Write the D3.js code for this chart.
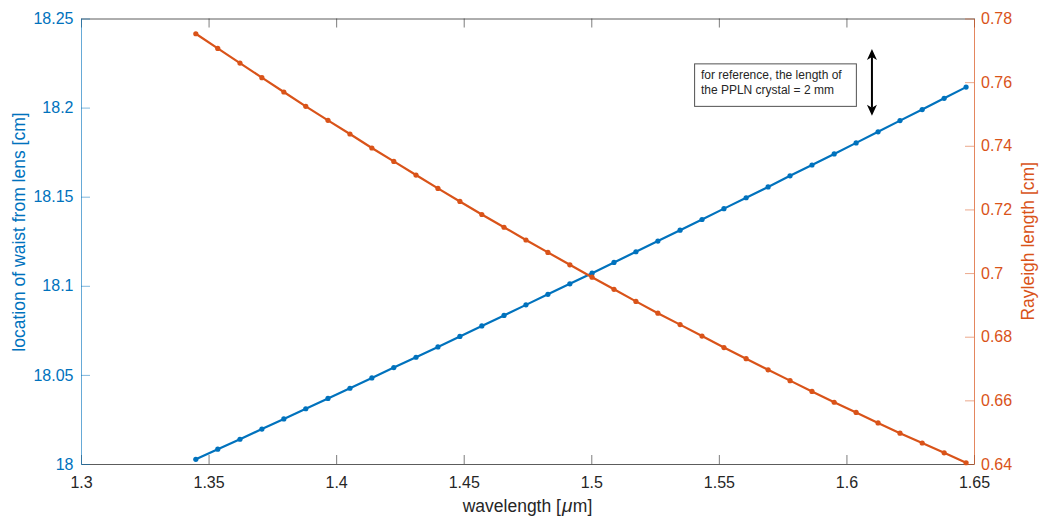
<!DOCTYPE html>
<html>
<head>
<meta charset="utf-8">
<script src="https://cdn.jsdelivr.net/npm/d3@7"></script>
<style>
  html, body { margin: 0; padding: 0; background: #ffffff; }
  svg { display: block; font-family: "Liberation Sans", Arial, Helvetica, sans-serif; }
</style>
</head>
<body>
<svg id="chart" width="1042" height="517"></svg>
<script>
// Wavelength samples [µm]
const wavelength = [
  1.3450, 1.3536, 1.3623, 1.3709, 1.3795, 1.3881, 1.3968, 1.4054, 1.4140, 1.4226,
  1.4313, 1.4399, 1.4485, 1.4571, 1.4658, 1.4744, 1.4830, 1.4916, 1.5003, 1.5089,
  1.5175, 1.5261, 1.5348, 1.5434, 1.5520, 1.5607, 1.5693, 1.5779, 1.5865, 1.5952,
  1.6038, 1.6124, 1.6210, 1.6297, 1.6383, 1.6469
];

// Location of the beam waist measured from the lens [cm] (left axis)
const waistLocation = [
  18.0026, 18.0083, 18.0139, 18.0196, 18.0253, 18.0310, 18.0368, 18.0425, 18.0483, 18.0541,
  18.0599, 18.0657, 18.0716, 18.0775, 18.0834, 18.0893, 18.0952, 18.1011, 18.1071, 18.1131,
  18.1191, 18.1251, 18.1312, 18.1372, 18.1433, 18.1494, 18.1555, 18.1617, 18.1678, 18.1740,
  18.1802, 18.1864, 18.1927, 18.1989, 18.2052, 18.2115
];

// Rayleigh length of the focused beam [cm] (right axis)
const rayleighLength = [
  0.7752, 0.7706, 0.7660, 0.7614, 0.7569, 0.7524, 0.7480, 0.7437, 0.7393, 0.7351,
  0.7308, 0.7266, 0.7225, 0.7184, 0.7144, 0.7104, 0.7065, 0.7026, 0.6987, 0.6949,
  0.6911, 0.6874, 0.6838, 0.6802, 0.6766, 0.6731, 0.6696, 0.6662, 0.6628, 0.6594,
  0.6562, 0.6529, 0.6497, 0.6466, 0.6435, 0.6404
];

// Tick values and their labels
const xTicks = [1.3, 1.35, 1.4, 1.45, 1.5, 1.55, 1.6, 1.65];
const xTickLabels = ["1.3", "1.35", "1.4", "1.45", "1.5", "1.55", "1.6", "1.65"];
const leftTicks = [18, 18.05, 18.1, 18.15, 18.2, 18.25];
const leftTickLabels = ["18", "18.05", "18.1", "18.15", "18.2", "18.25"];
const rightTicks = [0.64, 0.66, 0.68, 0.7, 0.72, 0.74, 0.76, 0.78];
const rightTickLabels = ["0.64", "0.66", "0.68", "0.7", "0.72", "0.74", "0.76", "0.78"];

const noteLines = ["for reference, the length of", "the PPLN crystal = 2 mm"];

const BLUE = "#0072BD";
const ORANGE = "#D95319";
const DARK = "#262626";

const svg = d3.select("#chart");
const plot = { left: 81, right: 974, top: 18.5, bottom: 464 };

const x = d3.scaleLinear().domain([1.3, 1.65]).range([plot.left, plot.right]);
const yL = d3.scaleLinear().domain([18, 18.25]).range([plot.bottom, plot.top]);
const yR = d3.scaleLinear().domain([0.64, 0.78]).range([plot.bottom, plot.top]);

const TICK = 9;
const tickFont = "16px";
const labelFont = "17.5px";

// Let axis groups inherit the page font instead of d3's defaults
function plainFont(g) {
  g.attr("font-family", null).attr("font-size", null);
}

// Bottom axis (ticks point inward)
const gx = svg.append("g")
  .attr("transform", `translate(0,${plot.bottom})`)
  .call(d3.axisBottom(x).tickValues(xTicks)
    .tickFormat((d, i) => xTickLabels[i])
    .tickSizeInner(-TICK).tickSizeOuter(0).tickPadding(12.5))
  .call(plainFont);
gx.select(".domain").attr("stroke", DARK).attr("stroke-opacity", 0.75);
gx.selectAll(".tick line").attr("stroke", DARK).attr("stroke-opacity", 0.6);
gx.selectAll(".tick text").attr("fill", DARK).style("font-size", tickFont);

// Top box edge with mirrored ticks
const gt = svg.append("g")
  .attr("transform", `translate(0,${plot.top})`)
  .call(d3.axisTop(x).tickValues(xTicks).tickFormat("")
    .tickSizeInner(-TICK).tickSizeOuter(0));
gt.select(".domain").attr("stroke", DARK).attr("stroke-opacity", 0.75);
gt.selectAll(".tick line").attr("stroke", DARK).attr("stroke-opacity", 0.6);

// Left axis
const gl = svg.append("g")
  .attr("transform", `translate(${plot.left},0)`)
  .call(d3.axisLeft(yL).tickValues(leftTicks)
    .tickFormat((d, i) => leftTickLabels[i])
    .tickSizeInner(-TICK).tickSizeOuter(0).tickPadding(7.5))
  .call(plainFont);
gl.select(".domain").attr("stroke", BLUE).attr("stroke-opacity", 0.6);
gl.selectAll(".tick line").attr("stroke", BLUE).attr("stroke-opacity", 0.5);
gl.selectAll(".tick text").attr("fill", BLUE).style("font-size", tickFont);

// Right axis
const gr = svg.append("g")
  .attr("transform", `translate(${plot.right},0)`)
  .call(d3.axisRight(yR).tickValues(rightTicks)
    .tickFormat((d, i) => rightTickLabels[i])
    .tickSizeInner(-TICK).tickSizeOuter(0).tickPadding(7))
  .call(plainFont);
gr.select(".domain").attr("stroke", ORANGE).attr("stroke-opacity", 0.7);
gr.selectAll(".tick line").attr("stroke", ORANGE).attr("stroke-opacity", 0.5);
gr.selectAll(".tick text").attr("fill", ORANGE).style("font-size", tickFont);

// Axis labels
svg.append("text")
  .attr("x", (plot.left + plot.right) / 2)
  .attr("y", 512)
  .attr("text-anchor", "middle")
  .attr("fill", DARK)
  .style("font-size", "17.5px")
  .call(t => {
    t.append("tspan").text("wavelength [");
    t.append("tspan").attr("dx", 1).attr("font-style", "italic").style("font-size", "19px").text("\u03BC");
    t.append("tspan").attr("dx", 0.5).text("m]");
  });

svg.append("text")
  .attr("transform", `translate(25,232) rotate(-90)`)
  .attr("text-anchor", "middle")
  .attr("fill", BLUE)
  .style("font-size", labelFont)
  .text("location of waist from lens [cm]");

svg.append("text")
  .attr("transform", `translate(1033.5,${(plot.top + plot.bottom) / 2}) rotate(-90)`)
  .attr("text-anchor", "middle")
  .attr("fill", ORANGE)
  .style("font-size", labelFont)
  .text("Rayleigh length [cm]");

// Data series
const rows = wavelength.map((w, i) => ({ w, left: waistLocation[i], right: rayleighLength[i] }));

const series = [
  { key: "left", color: BLUE, y: yL },
  { key: "right", color: ORANGE, y: yR }
];

series.forEach(s => {
  const line = d3.line().x(d => x(d.w)).y(d => s.y(d[s.key]));
  svg.append("path")
    .datum(rows)
    .attr("fill", "none")
    .attr("stroke", s.color)
    .attr("stroke-width", 2.2)
    .attr("stroke-linejoin", "round")
    .attr("d", line);
  svg.append("g").selectAll("circle")
    .data(rows)
    .join("circle")
    .attr("cx", d => x(d.w))
    .attr("cy", d => s.y(d[s.key]))
    .attr("r", 2.6)
    .attr("fill", s.color);
});

// Note box with the crystal length
const note = svg.append("g");
const noteLeft = x(1.5403), noteTop = yR(0.7659);
const noteText = note.append("text")
  .attr("fill", DARK)
  .style("font-size", "12px");
noteLines.forEach((ln, i) => {
  noteText.append("tspan")
    .attr("x", noteLeft + 6.8)
    .attr("y", noteTop + 16 + i * 15)
    .text(ln);
});
const textW = d3.max(noteText.selectAll("tspan").nodes(), n => n.getComputedTextLength());
note.insert("rect", "text")
  .attr("x", noteLeft + 0.5)
  .attr("y", noteTop + 0.5)
  .attr("width", textW + 21)
  .attr("height", 42.5)
  .attr("fill", "#ffffff")
  .attr("stroke", DARK)
  .attr("stroke-opacity", 0.8)
  .attr("stroke-width", 1);

// Double-headed arrow beside the note
const ax = x(1.61);
const aTop = yR(0.7704), aBot = yR(0.7494);
const headL = 11, headW = 5, headBack = 3;
svg.append("line")
  .attr("x1", ax).attr("x2", ax)
  .attr("y1", aTop + headL - headBack).attr("y2", aBot - headL + headBack)
  .attr("stroke", "#000").attr("stroke-width", 2);
svg.append("path")
  .attr("fill", "#000")
  .attr("d", `M${ax},${aTop} L${ax + headW},${aTop + headL} L${ax},${aTop + headL - headBack} L${ax - headW},${aTop + headL} Z`);
svg.append("path")
  .attr("fill", "#000")
  .attr("d", `M${ax},${aBot} L${ax + headW},${aBot - headL} L${ax},${aBot - headL + headBack} L${ax - headW},${aBot - headL} Z`);
</script>
</body>
</html>
